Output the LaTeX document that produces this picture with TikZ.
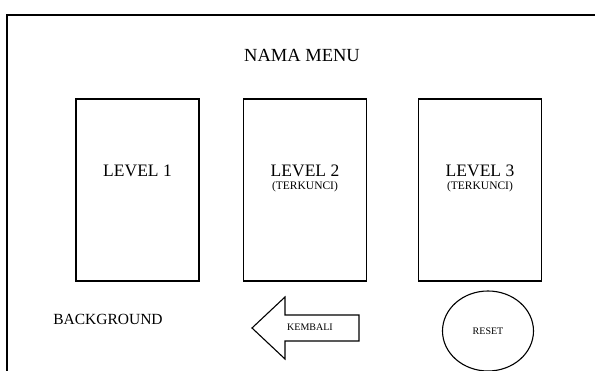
\documentclass[tikz,border=0pt]{standalone}
\usepackage{fontspec}
\setmainfont{Liberation Serif}
\usetikzlibrary{shapes.geometric}
\tikzset{
  frameline/.style={line width=1.8pt},
  levelbox/.style={draw, line width=1.8pt, minimum width=123pt, minimum height=182pt, inner sep=0pt},
  bigtext/.style={font=\fontsize{17.5}{19}\selectfont, inner sep=0pt},
  smalltext/.style={font=\fontsize{11.5}{13}\selectfont, inner sep=0pt},
  tinytext/.style={font=\fontsize{10}{12}\selectfont, inner sep=0pt},
  thinshape/.style={draw, line width=1.1pt}
}
\begin{document}
\begin{tikzpicture}[x=1pt,y=-1pt]
\useasboundingbox (0,0) rectangle (595,371);
% outer window frame (open to the right and bottom)
\coordinate (fbl) at (7,375);
\coordinate (ftl) at (7,15);
\coordinate (ftr) at (599,15);
\draw[frameline] (fbl) -- (ftl) -- (ftr);

\node[font=\fontsize{18.5}{20}\selectfont, inner sep=0pt] (title) at (302,55) {NAMA MENU};

% level boxes
\node[levelbox] (box1) at (137.5,190) {};
\node[levelbox] (box2) at (305,190) {};
\node[levelbox] (box3) at (480,190) {};
\node[bigtext] (lv1) at (137.5,171) {LEVEL 1};
\node[bigtext] (lv2) at (305,171) {LEVEL 2};
\node[smalltext] (lk2) at (305,187) {(TERKUNCI)};
\node[bigtext] (lv3) at (480,171) {LEVEL 3};
\node[smalltext] (lk3) at (480,187) {(TERKUNCI)};

\node[font=\fontsize{15.5}{17}\selectfont, inner sep=0pt] (bg) at (108,319) {BACKGROUND};

% back arrow
\coordinate (tip) at (252,328);
\coordinate (ht) at (285,297);
\coordinate (st) at (285,315);
\coordinate (rt) at (359,315);
\coordinate (rb) at (359,341);
\coordinate (sb) at (285,341);
\coordinate (hb) at (285,359);
\draw[thinshape, line join=miter] (tip) -- (ht) -- (st) -- (rt) -- (rb) -- (sb) -- (hb) -- cycle;
\node[tinytext] (back) at (310,327) {KEMBALI};

% reset button
\node[thinshape, ellipse, minimum width=91pt, minimum height=80pt, inner sep=0pt] (reset) at (488,331) {};
\node[tinytext] (resettext) at (reset.center) {RESET};
\end{tikzpicture}
\end{document}
